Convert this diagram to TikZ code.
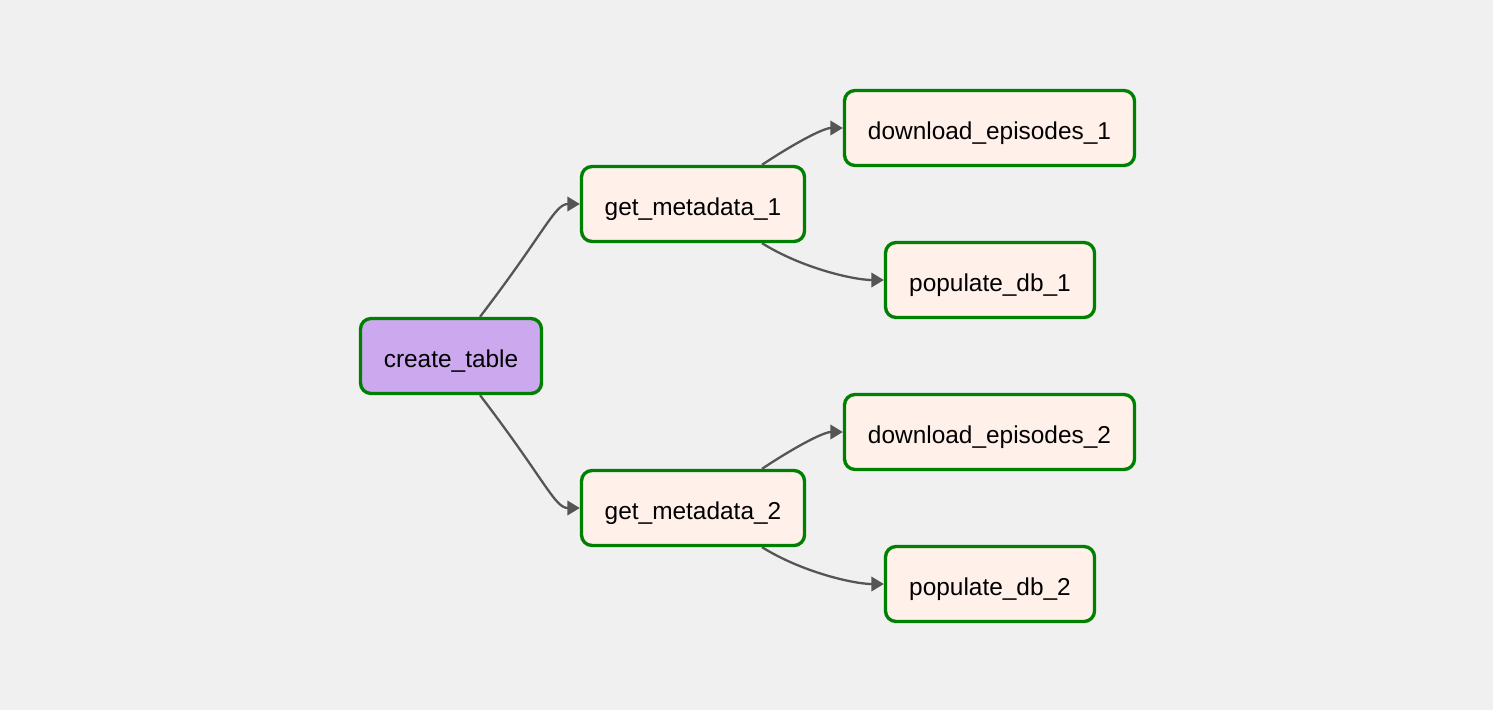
\documentclass[tikz,border=0pt]{standalone}
\usepackage{fontspec}
\setmainfont{Liberation Sans}
\usepackage{xcolor}
\usepackage{tikz}
\usetikzlibrary{
  arrows.meta,
  positioning,
  calc,
  backgrounds
}
\definecolor{bgcolor}{HTML}{F0F0F0}
\definecolor{taskcolor}{HTML}{FFF0EA}
\definecolor{startcolor}{HTML}{CCA9EE}
\definecolor{bordercolor}{HTML}{008000}
\definecolor{edgecolor}{HTML}{555555}

\begin{document}
\begin{tikzpicture}[
  taskbox/.style={draw=bordercolor, line width=1.9pt, rounded corners=6pt,
               minimum height=1.5cm, inner sep=0pt, fill=taskcolor,
               text height=0.44cm, text depth=0cm,
               font=\fontsize{13.9}{16}\selectfont, align=center},
  arrow/.style={-{Triangle[length=0.25cm, width=0.29cm]}, line width=1.3pt,
               draw=edgecolor},
]
  \fill[bgcolor] (0, 0) rectangle (29.86, -14.2);
  \useasboundingbox (0, 0) rectangle (29.86, -14.2);

  \node[taskbox, fill=startcolor, minimum width=3.62cm] (ct) at (9.02, -7.12) {create\_table};
  \node[taskbox, minimum width=4.46cm] (gm1) at (13.86, -4.08) {get\_metadata\_1};
  \node[taskbox, minimum width=4.46cm] (gm2) at (13.86, -10.16) {get\_metadata\_2};
  \node[taskbox, minimum width=5.80cm] (de1) at (19.79, -2.56) {download\_episodes\_1};
  \node[taskbox, minimum width=4.18cm] (pd1) at (19.80, -5.60) {populate\_db\_1};
  \node[taskbox, minimum width=5.80cm] (de2) at (19.79, -8.64) {download\_episodes\_2};
  \node[taskbox, minimum width=4.18cm] (pd2) at (19.80, -11.68) {populate\_db\_2};

  \draw[arrow] ([xshift=0.58cm]ct.north) .. controls +(1.3, 1.7) and +(-0.5, 0) .. (gm1.west);
  \draw[arrow] ([xshift=0.58cm]ct.south) .. controls +(1.3, -1.7) and +(-0.5, 0) .. (gm2.west);
  \draw[arrow] ([xshift=1.38cm]gm1.north) .. controls +(0.6, 0.4) and +(-0.4, 0) .. (de1.west);
  \draw[arrow] ([xshift=1.38cm]gm1.south) .. controls +(0.8, -0.5) and +(-0.6, 0) .. (pd1.west);
  \draw[arrow] ([xshift=1.38cm]gm2.north) .. controls +(0.6, 0.4) and +(-0.4, 0) .. (de2.west);
  \draw[arrow] ([xshift=1.38cm]gm2.south) .. controls +(0.8, -0.5) and +(-0.6, 0) .. (pd2.west);
\end{tikzpicture}
\end{document}
